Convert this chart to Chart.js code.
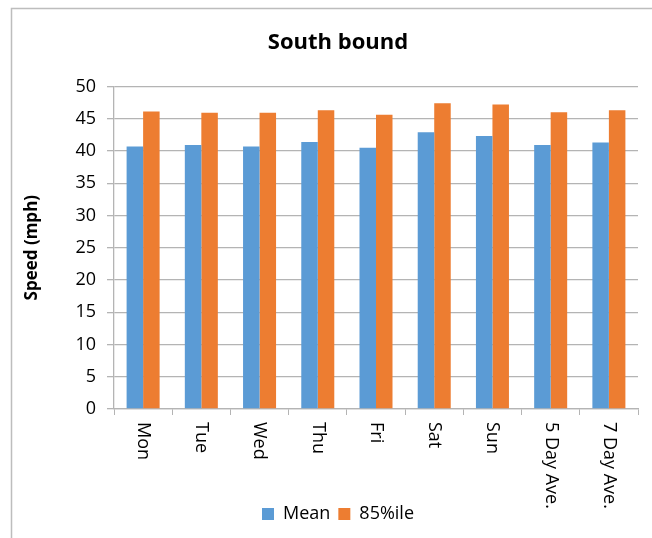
<!DOCTYPE html>
<html>
<head>
<meta charset="utf-8">
<script src="https://cdn.jsdelivr.net/npm/chart.js@4"></script>
<style>
  html, body { margin: 0; padding: 0; background: #fff; overflow: hidden; }
  #wrap { width: 652px; height: 538px; overflow: hidden; }
</style>
</head>
<body>
<div id="wrap"><canvas id="speedChart" width="676" height="538"></canvas></div>
<script>
// South bound speeds
const days = ['Mon', 'Tue', 'Wed', 'Thu', 'Fri', 'Sat', 'Sun', '5 Day Ave.', '7 Day Ave.'];
const meanSpeed = [40.7, 40.9, 40.7, 41.4, 40.5, 42.9, 42.3, 40.9, 41.3];
const pct85Speed = [46.1, 45.9, 45.9, 46.3, 45.6, 47.4, 47.2, 46.0, 46.3];
const yTicks = [0, 5, 10, 15, 20, 25, 30, 35, 40, 45, 50];

Chart.defaults.font.family = "'Open Sans', sans-serif";
Chart.defaults.color = '#000';

// outer frame (left and top edges only are visible)
const framePlugin = {
    id: 'frame',
    beforeDraw(chart) {
        const ctx = chart.ctx;
        ctx.save();
        ctx.fillStyle = '#fff';
        ctx.fillRect(0, 0, chart.width, chart.height);
        ctx.strokeStyle = '#bdbdbd';
        ctx.lineWidth = 1.5;
        ctx.beginPath();
        ctx.moveTo(11.5, chart.height);
        ctx.lineTo(11.5, 8.5);
        ctx.lineTo(chart.width, 8.5);
        ctx.stroke();
        ctx.restore();
    }
};

// category labels turned 90deg clockwise, read top to bottom
const dayLabels = {
    id: 'dayLabels',
    afterDraw(chart) {
        const ctx = chart.ctx;
        const xs = chart.scales.x;
        ctx.save();
        ctx.font = "18px 'Open Sans', sans-serif";
        ctx.fillStyle = '#000';
        ctx.textAlign = 'left';
        ctx.textBaseline = 'middle';
        days.forEach((d, i) => {
            ctx.save();
            ctx.translate(xs.getPixelForValue(i), chart.chartArea.bottom + 13);
            ctx.rotate(Math.PI / 2);
            ctx.fillText(d, 0, 0);
            ctx.restore();
        });
        ctx.restore();
    }
};

new Chart(document.getElementById('speedChart'), {
    type: 'bar',
    data: {
        labels: days,
        datasets: [{
            label: 'Mean',
            data: meanSpeed,
            backgroundColor: '#5B9BD5',
            categoryPercentage: 0.567,
            barPercentage: 1
        }, {
            label: '85%ile',
            data: pct85Speed,
            backgroundColor: '#ED7D31',
            categoryPercentage: 0.567,
            barPercentage: 1
        }]
    },
    options: {
        responsive: false,
        animation: false,
        layout: { padding: { top: 0, left: 38, right: 38, bottom: 5 } },
        plugins: {
            title: {
                display: true,
                text: 'South bound',
                font: { size: 22, weight: 'bold' },
                padding: { top: 30, bottom: 30 }
            },
            legend: {
                position: 'bottom',
                labels: {
                    boxWidth: 12,
                    boxHeight: 12,
                    padding: 8,
                    font: { size: 18 }
                }
            },
            tooltip: { enabled: false }
        },
        scales: {
            x: {
                grid: {
                    drawOnChartArea: false,
                    drawTicks: true,
                    tickLength: 6,
                    color: '#b4b4b4'
                },
                border: { color: '#b4b4b4', width: 1.3 },
                ticks: { display: false },
                afterFit(scale) { scale.height = 88; }
            },
            y: {
                min: 0,
                max: 50,
                afterBuildTicks(scale) { scale.ticks = yTicks.map(v => ({ value: v })); },
                grid: { color: '#b4b4b4', lineWidth: 1.3, tickLength: 7 },
                border: { color: '#b4b4b4', width: 1.3 },
                ticks: { font: { size: 18 }, padding: 11 },
                title: {
                    display: true,
                    text: 'Speed (mph)',
                    font: { size: 17, weight: 'bold' },
                    padding: { top: -16, bottom: 0 }
                },
                afterFit(scale) { scale.width = 76; }
            }
        }
    },
    plugins: [framePlugin, dayLabels]
});
</script>
</body>
</html>
